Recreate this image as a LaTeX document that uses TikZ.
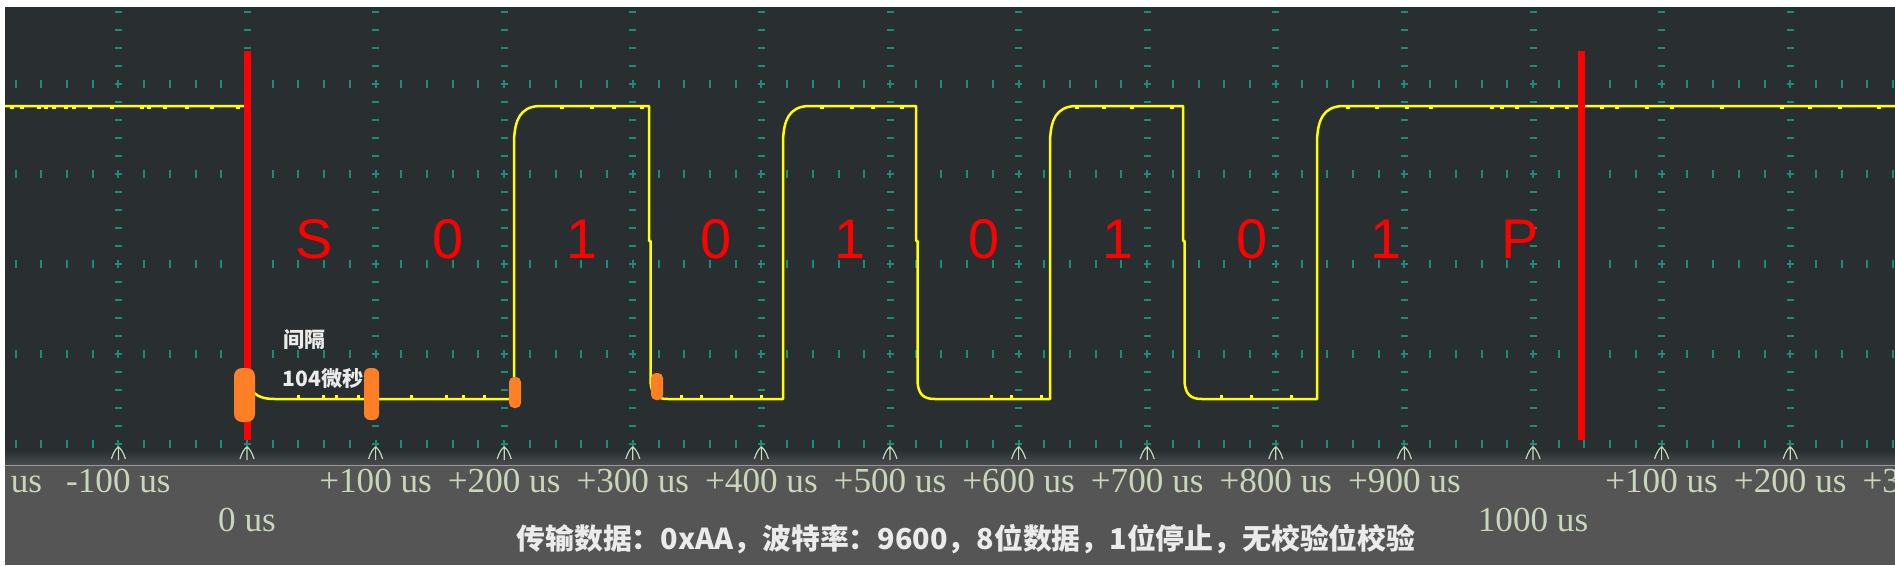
\documentclass[tikz,border=0pt]{standalone}
\usepackage{fontspec}
\setmainfont{Liberation Serif}
\newfontfamily\cjk{Noto Sans CJK SC}
\newfontfamily\arialfont{Liberation Sans}

\definecolor{scopebg}{RGB}{41,46,48}
\definecolor{gridteal}{RGB}{28,140,122}
\definecolor{axisgray}{RGB}{85,85,85}
\definecolor{labelfg}{RGB}{200,214,186}
\definecolor{blob}{RGB}{255,127,39}
\definecolor{sigyellow}{RGB}{255,255,0}

\tikzset{
  sig/.style={sigyellow, line width=0.25mm, line join=round},
  cursor/.style={red, line width=0.7mm},
  griddash/.style={gridteal, line width=0.2mm},
  timelbl/.style={labelfg, anchor=base, inner sep=0, font=\fontsize{10}{12}\selectfont},
  bitlbl/.style={red, anchor=base, inner sep=0, font=\arialfont\fontsize{15.9}{18}\selectfont},
  cjklbl/.style={white!92!black, inner sep=0, font=\cjk\bfseries\fontsize{6}{7}\selectfont},
}

\begin{document}
\begin{tikzpicture}[x=0.1mm, y=-0.1mm]
\useasboundingbox (0,0) rectangle (1895,565);
\fill[white] (0,0) rectangle (1895,565);
\begin{scope}
\clip (5,7) rectangle (1895,565);
% screen and time axis band
\fill[scopebg] (5,7) rectangle (1895,450);
\shade[top color=scopebg, bottom color={rgb,255:red,72;green,76;blue,78}] (5,450) rectangle (1895,465);
\fill[axisgray] (5,465) rectangle (1895,565);
\draw[gray!80, line width=0.1mm] (5,465) -- (1895,465);

% dotted grid
\foreach \k in {-1,...,12} {
  \foreach \j in {-4,...,20}
    \draw[griddash] ({247+128.6*\k-3.5},{84+18*\j}) -- ++(7,0);
}
\foreach \m in {0,...,4}
  \foreach \i in {-9,...,64}
    \draw[griddash] ({247+25.72*\i},{84+90*\m-4}) -- ++(0,8);

% time markers
\foreach \k in {-1,...,12} {
  \pgfmathsetmacro\mx{247+128.6*\k}
  \draw[labelfg, line width=0.12mm] (\mx,447) -- (\mx,460)
    (\mx-7,459) .. controls (\mx-5,452) and (\mx-2,448) .. (\mx,447)
    .. controls (\mx+2,448) and (\mx+5,452) .. (\mx+7,459);
}

% serial signal 0xAA
\draw[sig] (5,106) -- (247,106) -- (247,375) .. controls (249,392) and (256,399) .. (275,399)
  \foreach \r/\f in {514/649, 783/916, 1050/1183} {
    -- (\r,399) -- (\r,140) .. controls (\r+1,120) and (\r+6,107) .. (\r+25,106)
    -- (\f,106) -- (\f,241) -- (\f+1.5,241) -- (\f+1.5,382)
    .. controls (\f+2.5,394) and (\f+7,399) .. (\f+19,399)
  }
  -- (1317,399) -- (1317,140) .. controls (1318,120) and (1323,107) .. (1342,106) -- (1895,106);
% noise
\foreach \x in {10,20,37,44,52,64,72,88,110,140,147,163,185,210,236,560,590,612,640,820,850,871,900,1075,1102,1130,1170,1346,1375,1405,1429,1490,1500,1515,1550,1565,1600,1615,1645,1670,1720,1780,1808,1838,1877}
  \fill[sigyellow] (\x,106) rectangle ++(4,3);
\foreach \x in {297,322,335,357,410,445,462,483,680,700,730,760,990,1010,1040,1220,1250,1290}
  \fill[sigyellow] (\x,399) rectangle ++(3,-4);

% cursors
\draw[cursor] (247.5,51) -- (247.5,440);
\draw[cursor] (1581.5,51) -- (1581.5,440);

% markers
\fill[blob, rounded corners=0.8mm] (234,368) rectangle (255,422);
\fill[blob, rounded corners=0.6mm] (364,368) rectangle (379,420);
\fill[blob, rounded corners=0.5mm] (509,377) rectangle (521,408);
\fill[blob, rounded corners=0.5mm] (651,373) rectangle (663,400);

% bit labels
\foreach \t [count=\n from 0] in {S,0,1,0,1,0,1,0,1,P}
  \node[bitlbl] (bit\n) at ({314+134*\n},258) {\t};

\node[cjklbl, anchor=base west] (gap) at (283,347) {间隔};
\node[cjklbl, anchor=base west] (gapval) at (282,386) {104微秒};

% time axis labels
\foreach \k/\t in {-2/-200, -1/-100, 1/+100, 2/+200, 3/+300, 4/+400, 5/+500, 6/+600, 7/+700, 8/+800, 9/+900, 11/+100, 12/+200, 13/+300}
  \node[timelbl] (lbl\k) at ({247+128.6*\k},492) {\t{} us};
\node[timelbl] (zero) at (247,531) {0 us};
\node[timelbl] (thousand) at (1533,531) {1000 us};

\node[anchor=base, inner sep=0, white!92!black, font=\cjk\bfseries\fontsize{8.2}{10}\selectfont] (info) at (966,549)
  {传输数据：0xAA，波特率：9600，8位数据，1位停止，无校验位校验};
\end{scope}
\end{tikzpicture}
\end{document}
